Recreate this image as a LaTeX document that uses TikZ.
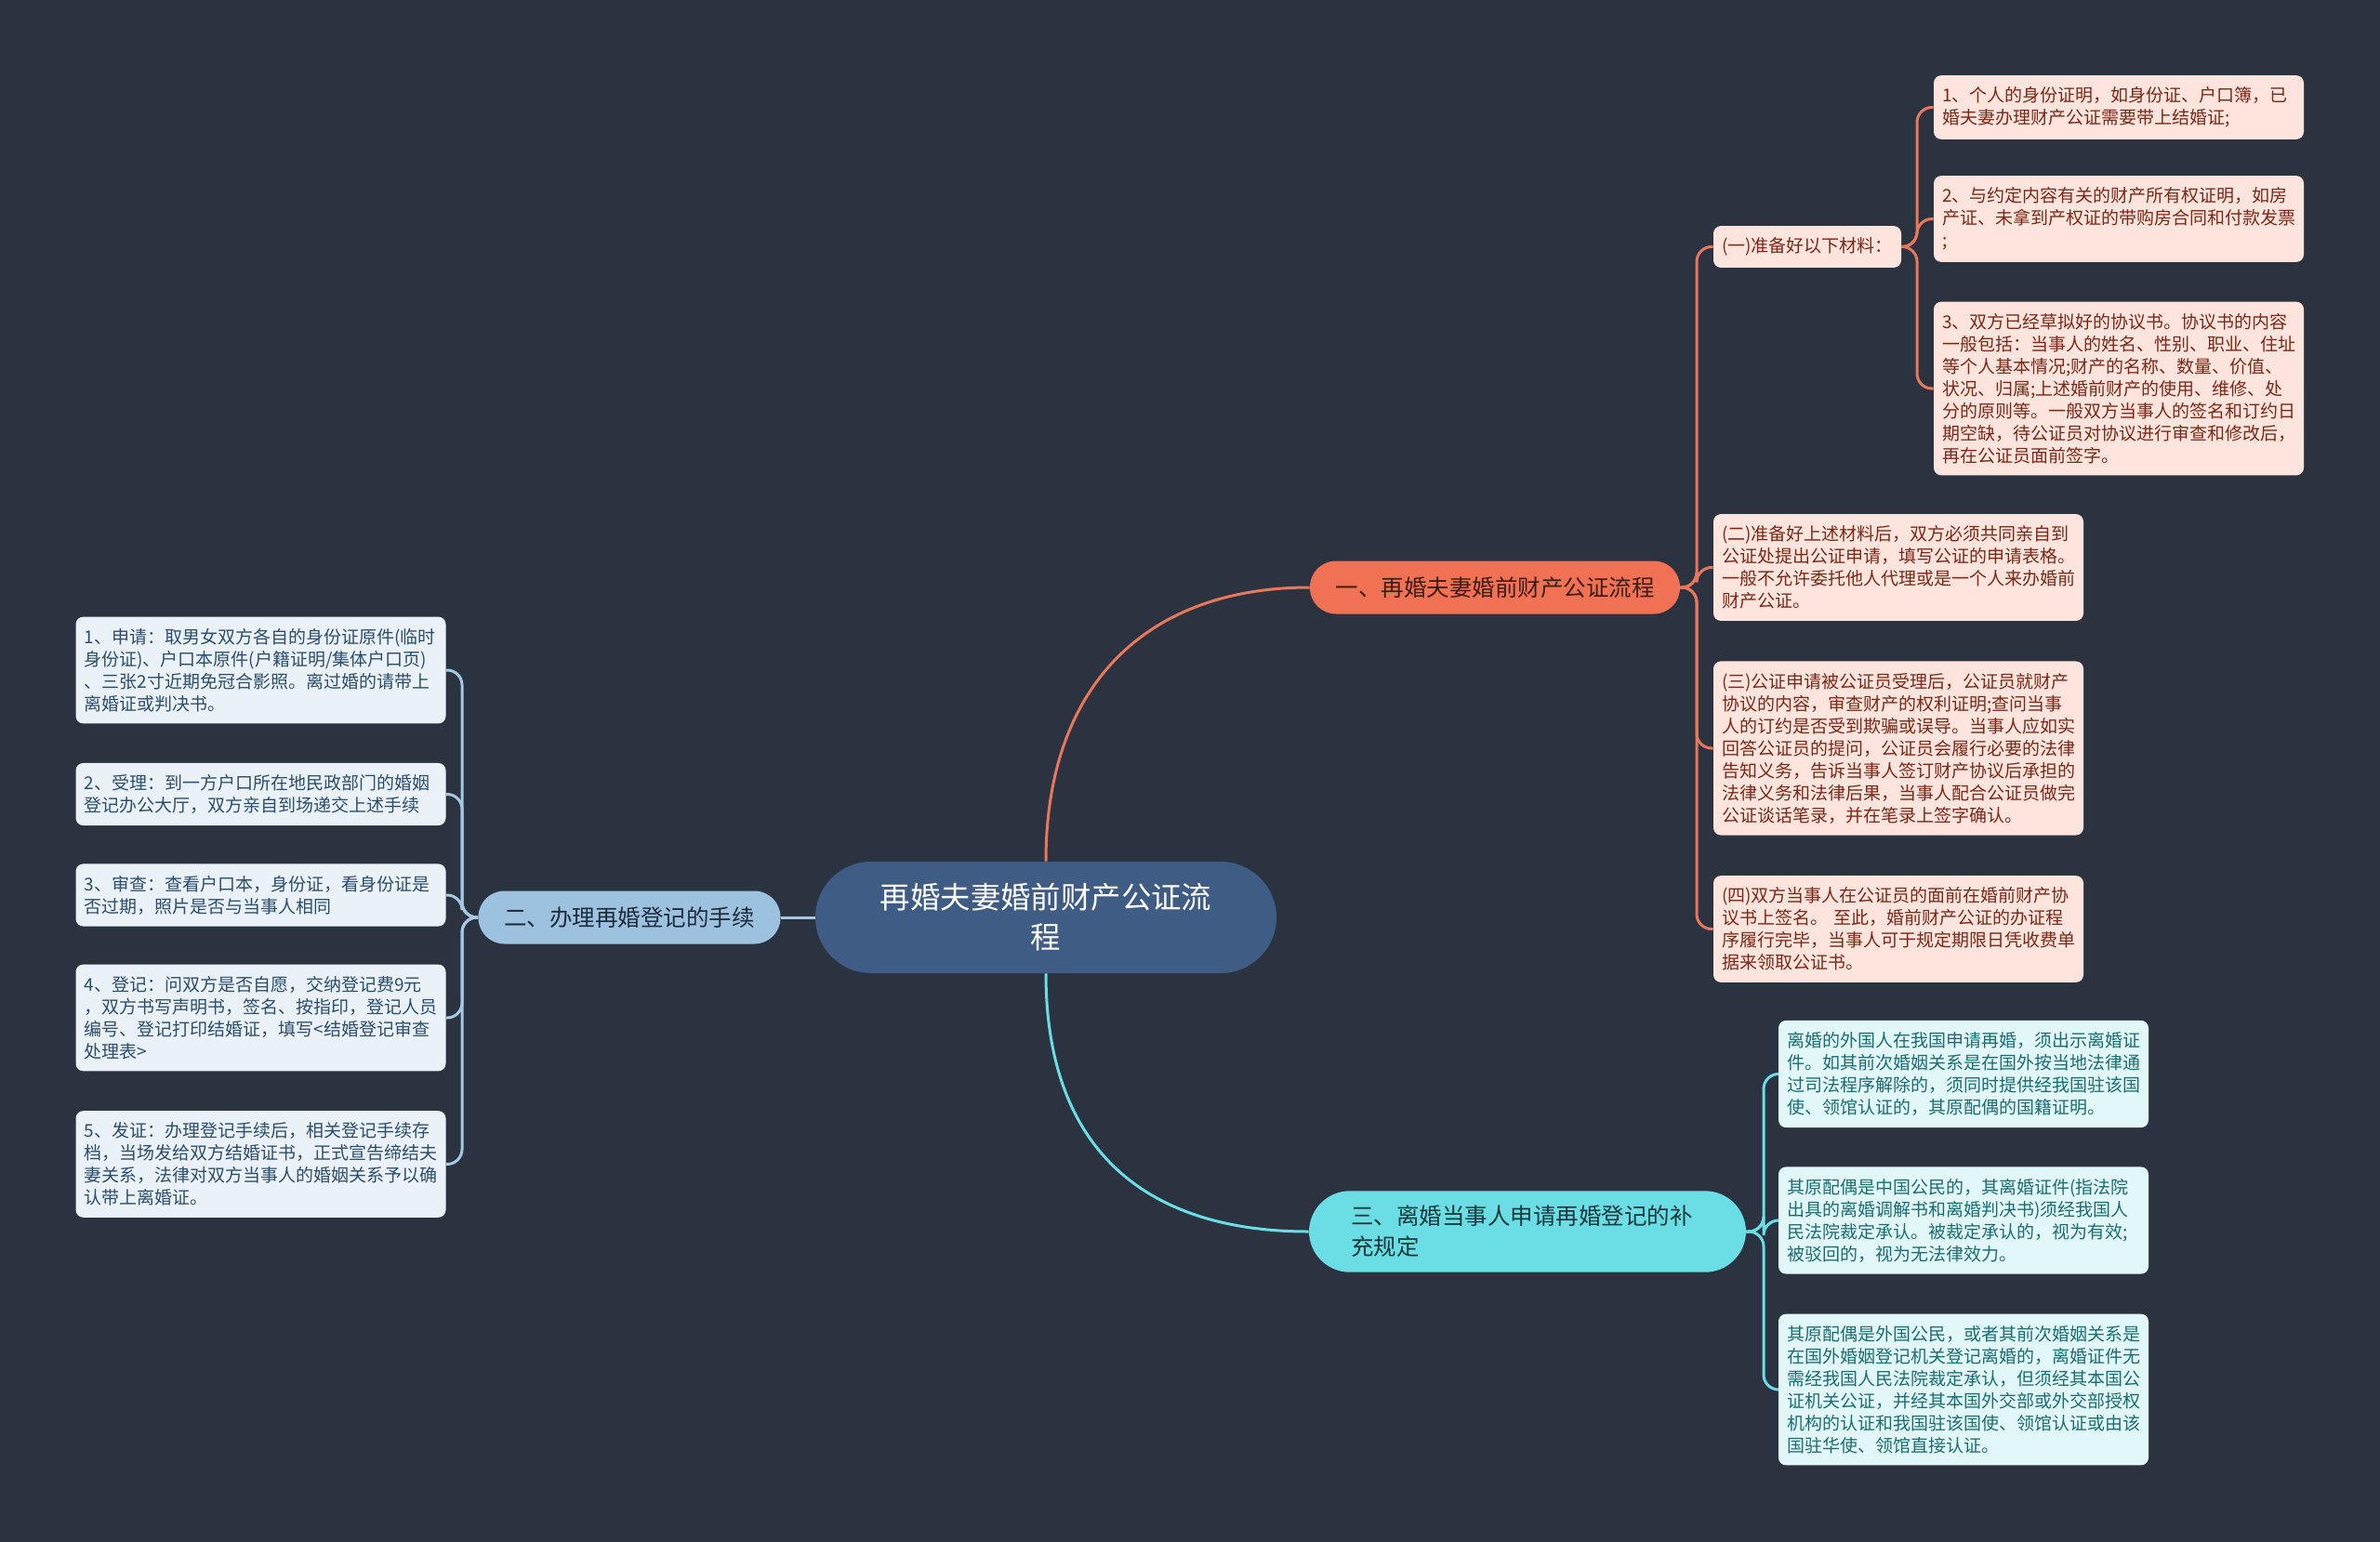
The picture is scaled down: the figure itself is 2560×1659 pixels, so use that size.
\documentclass[tikz,border=0pt]{standalone}
\usepackage{fontspec}
\setmainfont{Noto Sans CJK SC}
\usepackage{xcolor}
\usepackage{tikz}
\definecolor{bgcol}{HTML}{2B3341}
\definecolor{rootcol}{HTML}{3E5C84}
\definecolor{ofill}{HTML}{F07153}
\definecolor{oline}{HTML}{E8775C}
\definecolor{oleaf}{HTML}{FDE4DC}
\definecolor{otext}{HTML}{7B2818}
\definecolor{obtext}{HTML}{3B1E17}
\definecolor{bfill}{HTML}{9DC2DF}
\definecolor{bline}{HTML}{A5C8E3}
\definecolor{bleaf}{HTML}{EAF2F8}
\definecolor{btext}{HTML}{2C4D6B}
\definecolor{bbtext}{HTML}{1E2B3A}
\definecolor{cfill}{HTML}{6BDDE4}
\definecolor{cline}{HTML}{6BDDE4}
\definecolor{cleaf}{HTML}{E1F7F8}
\definecolor{ctext}{HTML}{1B6D72}
\definecolor{cbtext}{HTML}{17383C}

\begin{document}
\begin{tikzpicture}[x=0.5pt,y=-0.5pt,
  rootnode/.style={fill=rootcol,text=white,rounded corners=30pt,minimum width=248pt,minimum height=60pt,align=center,font=\fontsize{16.2pt}{21.5pt}\selectfont},
  branchnode/.style={rounded corners=14pt,minimum height=28.5pt,font=\fontsize{12.25pt}{16.5pt}\selectfont},
  leafnode/.style={rounded corners=4pt,text width=190pt,inner xsep=4.5pt,inner ysep=6.25pt,align=left,font=\fontsize{9.5pt}{12pt}\selectfont},
  oleafnode/.style={leafnode,fill=oleaf,text=otext},
  bleafnode/.style={leafnode,fill=bleaf,text=btext},
  cleafnode/.style={leafnode,fill=cleaf,text=ctext},
  olink/.style={draw=oline,line width=1.5pt,rounded corners=8pt},
  blink/.style={draw=bline,line width=1.5pt,rounded corners=8pt},
  clink/.style={draw=cline,line width=1.5pt,rounded corners=8pt}]
\fill[bgcol] (0,0) rectangle (2560,1659);
\useasboundingbox (0,0) rectangle (2560,1659);

% centre and main branches
\node[rootnode] (root) at (1125,987) {再婚夫妻婚前财产公证流\\程};
\node[branchnode,fill=ofill,text=obtext,minimum width=199pt] (b1) at (1608,632) {一、再婚夫妻婚前财产公证流程};
\node[branchnode,fill=bfill,text=bbtext,minimum width=162.5pt] (b2) at (677,987) {二、办理再婚登记的手续};
\node[branchnode,fill=cfill,text=cbtext,rounded corners=22pt,text width=190pt,inner xsep=22.5pt,inner ysep=7.9pt,align=left] (b3) at (1643,1325) {三、离婚当事人申请再婚登记的补\\充规定};

% branch one
\node[oleafnode,text width=,minimum width=101pt,minimum height=21.5pt] (s1) at (1944,265.5) {(一)准备好以下材料：};
\node[oleafnode] (s2) at (2042,610.5) {(二)准备好上述材料后，双方必须共同亲自到\\公证处提出公证申请，填写公证的申请表格。\\一般不允许委托他人代理或是一个人来办婚前\\财产公证。};
\node[oleafnode] (s3) at (2042,805) {(三)公证申请被公证员受理后，公证员就财产\\协议的内容，审查财产的权利证明;查问当事\\人的订约是否受到欺骗或误导。当事人应如实\\回答公证员的提问，公证员会履行必要的法律\\告知义务，告诉当事人签订财产协议后承担的\\法律义务和法律后果，当事人配合公证员做完\\公证谈话笔录，并在笔录上签字确认。};
\node[oleafnode] (s4) at (2042,999.5) {(四)双方当事人在公证员的面前在婚前财产协\\议书上签名。 至此，婚前财产公证的办证程\\序履行完毕，当事人可于规定期限日凭收费单\\据来领取公证书。};
\node[oleafnode] (m1) at (2279,115.5) {1、个人的身份证明，如身份证、户口簿，已\\婚夫妻办理财产公证需要带上结婚证;};
\node[oleafnode] (m2) at (2279,235.5) {2、与约定内容有关的财产所有权证明，如房\\产证、未拿到产权证的带购房合同和付款发票\\;};
\node[oleafnode] (m3) at (2279,418) {3、双方已经草拟好的协议书。协议书的内容\\一般包括：当事人的姓名、性别、职业、住址\\等个人基本情况;财产的名称、数量、价值、\\状况、归属;上述婚前财产的使用、维修、处\\分的原则等。一般双方当事人的签名和订约日\\期空缺，待公证员对协议进行审查和修改后，\\再在公证员面前签字。};

% branch two
\node[bleafnode] (r1) at (280.5,721) {1、申请：取男女双方各自的身份证原件(临时\\身份证)、户口本原件(户籍证明/集体户口页)\\、三张2寸近期免冠合影照。离过婚的请带上\\离婚证或判决书。};
\node[bleafnode] (r2) at (280.5,854.5) {2、受理：到一方户口所在地民政部门的婚姻\\登记办公大厅，双方亲自到场递交上述手续};
\node[bleafnode] (r3) at (280.5,963) {3、审查：查看户口本，身份证，看身份证是\\否过期，照片是否与当事人相同};
\node[bleafnode] (r4) at (280.5,1095) {4、登记：问双方是否自愿，交纳登记费9元\\，双方书写声明书，签名、按指印，登记人员\\编号、登记打印结婚证，填写<结婚登记审查\\处理表>};
\node[bleafnode] (r5) at (280.5,1252.5) {5、发证：办理登记手续后，相关登记手续存\\档，当场发给双方结婚证书，正式宣告缔结夫\\妻关系，法律对双方当事人的婚姻关系予以确\\认带上离婚证。};

% branch three
\node[cleafnode] (n1) at (2112,1155.5) {离婚的外国人在我国申请再婚，须出示离婚证\\件。如其前次婚姻关系是在国外按当地法律通\\过司法程序解除的，须同时提供经我国驻该国\\使、领馆认证的，其原配偶的国籍证明。};
\node[cleafnode] (n2) at (2112,1313) {其原配偶是中国公民的，其离婚证件(指法院\\出具的离婚调解书和离婚判决书)须经我国人\\民法院裁定承认。被裁定承认的，视为有效;\\被驳回的，视为无法律效力。};
\node[cleafnode] (n3) at (2112,1495) {其原配偶是外国公民，或者其前次婚姻关系是\\在国外婚姻登记机关登记离婚的，离婚证件无\\需经我国人民法院裁定承认，但须经其本国公\\证机关公证，并经其本国外交部或外交部授权\\机构的认证和我国驻该国使、领馆认证或由该\\国驻华使、领馆直接认证。};

% connectors
\draw[olink] (root.north) .. controls +(0,-190) and +(-175,0) .. (b1.west);
\draw[clink] (root.south) .. controls +(0,190) and +(-175,0) .. (b3.west);
\draw[blink] (root.west) -- (b2.east);

\coordinate (t1) at (1825,632);
\foreach \s in {s1,s2,s3,s4}
  \draw[olink] (b1.east) -- (t1) |- (\s.west);
\coordinate (t11) at (2062,265.5);
\foreach \m in {m1,m2,m3}
  \draw[olink] (s1.east) -- (t11) |- (\m.west);
\coordinate (t2) at (497,987);
\foreach \r in {r1,r2,r3,r4,r5}
  \draw[blink] (b2.west) -- (t2) |- (\r.east);
\coordinate (t3) at (1897,1325);
\foreach \n in {n1,n2,n3}
  \draw[clink] (b3.east) -- (t3) |- (\n.west);
\end{tikzpicture}
\end{document}
